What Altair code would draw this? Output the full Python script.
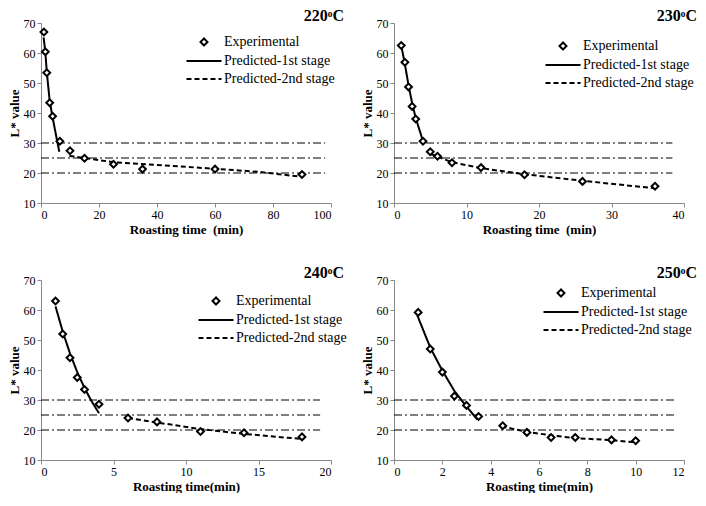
import altair as alt
import pandas as pd

SERIES = ["Experimental", "Predicted-1st stage", "Predicted-2nd stage"]

# ---- 220 C ----
t220 = [1, 1.5, 2, 3, 4, 6.5, 10, 15, 25, 35, 60, 90]
L220 = [67.0, 60.4, 53.4, 43.4, 38.9, 30.6, 27.4, 24.9, 22.9, 21.3, 21.3, 19.5]
p1t220 = [0.9, 1.5, 2, 3, 4, 5, 6.3]
p1L220 = [65.2, 60.3, 53.6, 44.0, 38.5, 33.5, 27.1]
p2t220 = [9.8, 25, 40, 60, 75, 90]
p2L220 = [25.7, 23.6, 22.7, 21.4, 20.4, 18.7]

# ---- 230 C ----
t230 = [1, 1.5, 2, 2.5, 3, 4, 5, 6, 8, 12, 18, 26, 36]
L230 = [62.5, 56.9, 48.7, 42.2, 38.0, 30.6, 27.1, 25.6, 23.4, 21.8, 19.4, 17.2, 15.6]
p1t230 = [1, 1.5, 2, 2.5, 3, 4]
p1L230 = [62.5, 56.3, 49.3, 43.3, 38.3, 30.6]
p2t230 = [5, 8, 12, 18, 26, 36]
p2L230 = [26.4, 23.6, 21.6, 19.6, 17.4, 14.9]

# ---- 240 C ----
t240 = [1, 1.5, 2, 2.5, 3, 4, 6, 8, 11, 14, 18]
L240 = [63.0, 52.0, 44.1, 37.5, 33.5, 28.6, 24.0, 22.7, 19.5, 19.1, 17.7]
p1t240 = [1, 1.5, 2, 2.5, 3, 3.5, 4]
p1L240 = [61.2, 52.8, 45.5, 39.3, 34.0, 29.5, 25.6]
p2t240 = [6, 8, 11, 14, 18]
p2L240 = [24.0, 22.5, 20.3, 18.7, 17.0]

# ---- 250 C ----
t250 = [1, 1.5, 2, 2.5, 3, 3.5, 4.5, 5.5, 6.5, 7.5, 9, 10]
L250 = [59.2, 47.0, 39.3, 31.3, 28.2, 24.5, 21.4, 19.2, 17.5, 17.5, 16.7, 16.4]
p1t250 = [0.9, 1.5, 2, 2.5, 3, 3.45]
p1L250 = [59.5, 47.5, 39.8, 33.0, 27.8, 23.5]
p2t250 = [4.45, 5.5, 6.5, 7.5, 9, 10]
p2L250 = [21.2, 19.4, 18.2, 17.3, 16.6, 15.9]

# reference (dash-dot) levels and their right ends
levels = [30, 25, 20]
lvl_end = {"220": 98, "230": 38.4, "240": 19.25, "250": 11.6}

FONT = "Liberation Serif"


def mkaxis(vals, title, pad):
    return alt.Axis(
        values=vals, title=title, grid=False,
        domainColor="#888888", tickColor="#888888", tickSize=4,
        labelFont=FONT, labelFontSize=12, labelColor="black", labelPadding=2,
        titleFont=FONT, titleFontSize=13, titleFontWeight="bold",
        titleColor="black", titlePadding=pad,
    )


def panel(name, et, eL, at, aL, bt, bL, xmax, xstep, xtitle, lx, ly):
    xs = alt.Scale(domain=[0, xmax], nice=False, zero=True)
    ys = alt.Scale(domain=[10, 70], nice=False)
    xax = mkaxis(list(range(0, int(xmax) + 1, xstep)), xtitle, 3)
    yax = mkaxis(list(range(10, 71, 10)), "L* value", 2)
    leg = alt.Legend(
        title=None, orient="none", legendX=lx, legendY=ly, padding=0,
        labelFont=FONT, labelFontSize=14, labelColor="black",
        symbolSize=49, symbolStrokeWidth=2, symbolStrokeColor="black",
        labelOffset=13, rowPadding=4,
    )
    exp = pd.DataFrame({"t": et, "L": eL, "series": "Experimental"})
    pred = pd.concat([
        pd.DataFrame({"t": at, "L": aL, "series": "Predicted-1st stage"}),
        pd.DataFrame({"t": bt, "L": bL, "series": "Predicted-2nd stage"}),
    ])
    hl = pd.DataFrame({"y": levels, "x0": 0, "x1": lvl_end[name]})

    col = alt.Color(
        "series:N",
        scale=alt.Scale(domain=SERIES, range=["black", "black", "black"]),
        legend=leg,
    )
    rules = alt.Chart(hl).mark_rule(
        color="black", strokeWidth=1, strokeDash=[8, 3, 2, 3]
    ).encode(
        x=alt.X("x0:Q", scale=xs, axis=xax),
        x2="x1:Q",
        y=alt.Y("y:Q", scale=ys, axis=yax),
    )
    lines = alt.Chart(pred).mark_line(strokeWidth=2).encode(
        x=alt.X("t:Q", scale=xs, axis=xax),
        y=alt.Y("L:Q", scale=ys, axis=yax),
        color=col,
        strokeDash=alt.StrokeDash(
            "series:N",
            scale=alt.Scale(domain=SERIES, range=[[1, 0], [1, 0], [5, 3]]),
            legend=leg,
        ),
    )
    pts = alt.Chart(exp).mark_point(
        filled=False, fill="white", strokeWidth=2, size=46, opacity=1
    ).encode(
        x=alt.X("t:Q", scale=xs, axis=xax),
        y=alt.Y("L:Q", scale=ys, axis=yax),
        color=col,
        shape=alt.Shape(
            "series:N",
            scale=alt.Scale(domain=SERIES, range=["diamond", "M-5,0H5", "M-5,0H5"]),
            legend=leg,
        ),
    )
    return alt.layer(rules, lines, pts).properties(
        width=290, height=180,
        title=alt.TitleParams(
            name + "\u1d52C", anchor="end", frame="group", font=FONT,
            fontSize=16, fontWeight="bold", color="black", dx=13, offset=-7,
        ),
    )


c1 = panel("220", t220, L220, p1t220, p1L220, p2t220, p2L220, 100, 20,
           "Roasting time\u00a0 (min)", 156, 12)
c2 = panel("230", t230, L230, p1t230, p1L230, p2t230, p2L230, 40, 10,
           "Roasting time\u00a0 (min)", 162, 16)
c3 = panel("240", t240, L240, p1t240, p1L240, p2t240, p2L240, 20, 5,
           "Roasting time(min)", 168, 14)
c4 = panel("250", t250, L250, p1t250, p1L250, p2t250, p2L250, 12, 2,
           "Roasting time(min)", 160, 6)

chart = alt.concat(
    c1, c2, c3, c4, columns=2, spacing={"row": 77, "column": 63}, bounds="flush"
).resolve_scale(
    x="independent", y="independent", color="independent",
    shape="independent", strokeDash="independent"
).resolve_legend(
    color="independent", shape="independent", strokeDash="independent"
).configure_view(stroke=None).properties(
    padding={"left": 0, "top": 0, "right": 0, "bottom": 0}, background="white"
)

chart.save("out.html", embed_options={"renderer": "svg", "actions": False})
